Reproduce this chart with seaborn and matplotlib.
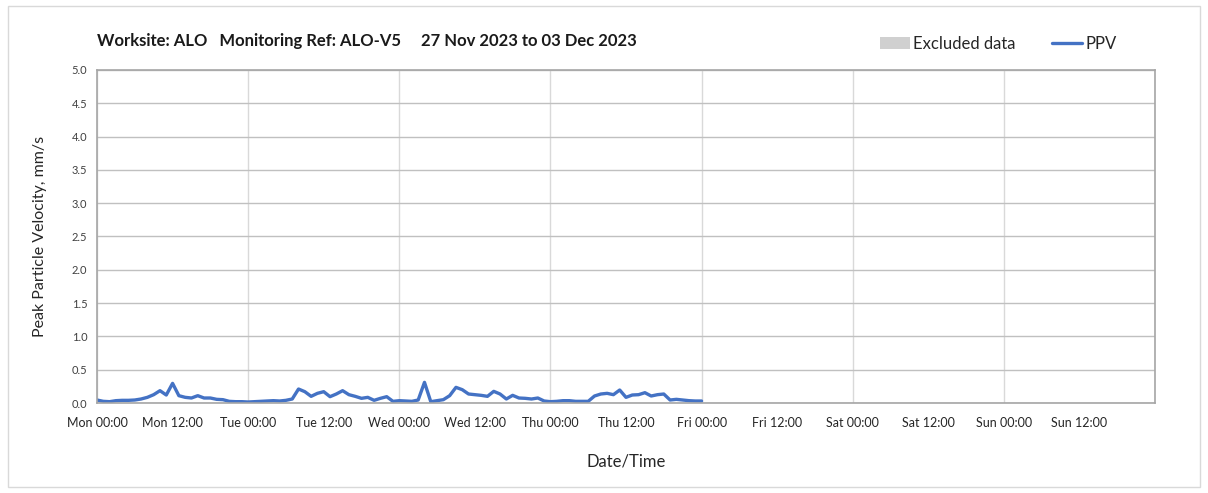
import pandas as pd
import numpy as np
import matplotlib
matplotlib.use("Agg")
import matplotlib.pyplot as plt
import matplotlib.dates as mdates
from matplotlib.patches import Patch, Rectangle
from matplotlib.lines import Line2D
import seaborn as sns

# hourly PPV readings, Mon 27 Nov 00:00 -> Fri 01 Dec 00:00
mon = [0.045, 0.025, 0.02, 0.035, 0.04, 0.04, 0.045, 0.06, 0.085, 0.125, 0.185, 0.12,
       0.295, 0.11, 0.085, 0.075, 0.11, 0.075, 0.075, 0.055, 0.05, 0.025, 0.02, 0.02]
tue = [0.015, 0.02, 0.025, 0.03, 0.035, 0.03, 0.04, 0.06, 0.21, 0.17, 0.10, 0.145,
       0.17, 0.095, 0.135, 0.185, 0.125, 0.10, 0.07, 0.085, 0.04, 0.07, 0.095, 0.025]
wed = [0.035, 0.03, 0.025, 0.045, 0.31, 0.02, 0.035, 0.05, 0.11, 0.235, 0.20, 0.135,
       0.125, 0.115, 0.10, 0.175, 0.135, 0.06, 0.115, 0.075, 0.07, 0.06, 0.075, 0.03]
thu = [0.02, 0.025, 0.035, 0.035, 0.025, 0.025, 0.025, 0.105, 0.135, 0.145, 0.125, 0.195,
       0.085, 0.12, 0.125, 0.155, 0.105, 0.125, 0.135, 0.045, 0.055, 0.045, 0.035, 0.03]
fri = [0.03]
ppv = mon + tue + wed + thu + fri

times = pd.date_range("2023-11-27 00:00", periods=len(ppv), freq="h")
df = pd.DataFrame({"Date/Time": times, "PPV": ppv})

week_start = pd.Timestamp("2023-11-27 00:00")
week_end = pd.Timestamp("2023-12-04 00:00")
y_ticks = np.arange(0, 5.01, 0.5)

sns.set_style("white")
plt.rcParams["font.family"] = ["Lato", "DejaVu Sans"]

fig = plt.figure(figsize=(12.08, 4.93), dpi=100)
ax = fig.add_axes([97 / 1208, 1 - 403 / 493, (1155 - 97) / 1208, (403 - 70) / 493])

line_col = "#4472C4"
sns.lineplot(data=df, x="Date/Time", y="PPV", ax=ax, color=line_col, linewidth=2.4)

ax.set_xlim(week_start, week_end)
ax.set_ylim(0, 5)
ax.set_yticks(y_ticks)
ax.yaxis.set_major_formatter(matplotlib.ticker.FormatStrFormatter("%.1f"))

# days as major ticks (with grid), noon as minor ticks
ax.xaxis.set_major_locator(mdates.DayLocator())
ax.xaxis.set_major_formatter(mdates.DateFormatter("%a %H:%M"))
ax.xaxis.set_minor_locator(mdates.HourLocator(byhour=[12]))
ax.xaxis.set_minor_formatter(mdates.DateFormatter("%a %H:%M"))
ax.grid(axis="x", which="major", color="#d9d9d9", linewidth=1)
ax.grid(axis="y", which="major", color="#c0c0c0", linewidth=1)
ax.set_axisbelow(True)

for which in ["major", "minor"]:
    ax.tick_params(axis="x", which=which, length=4, width=1, color="#808080",
                   labelsize=9, labelcolor="#262626", pad=6)
ax.tick_params(axis="y", length=4, width=1, color="#808080", labelsize=8,
               labelcolor="#404040", pad=3)
ax.xaxis.get_major_ticks()[-1].label1.set_visible(False)

for side in ["left", "bottom", "right", "top"]:
    ax.spines[side].set_color("#a6a6a6")
    ax.spines[side].set_linewidth(1.2)

ax.set_xlabel("Date/Time", fontsize=12, color="#262626", labelpad=18)
ax.set_ylabel("Peak Particle Velocity, mm/s", fontsize=11.5, color="#262626", labelpad=18)

fig.text(97 / 1208, 1 - 41 / 493, "Worksite: ALO   Monitoring Ref: ALO-V5     27 Nov 2023 to 03 Dec 2023",
         fontsize=12, fontweight="bold", color="#1a1a1a", va="center", ha="left")

handles = [Patch(facecolor="#d0d0d0", edgecolor="none", label="Excluded data"),
           Line2D([0], [0], color=line_col, linewidth=2.4, label="PPV")]
fig.legend(handles=handles, loc="center right", bbox_to_anchor=(1132 / 1208, 1 - 44 / 493),
           ncol=2, frameon=False, fontsize=12, handlelength=1.8, handletextpad=0.2,
           columnspacing=2.2, labelcolor="#262626")

fig.patches.append(Rectangle((8 / 1208, 6 / 493), 1192 / 1208, 481 / 493, transform=fig.transFigure,
                             fill=False, edgecolor="#d9d9d9", linewidth=1))

fig.savefig("out.png", dpi=100, facecolor="white")
